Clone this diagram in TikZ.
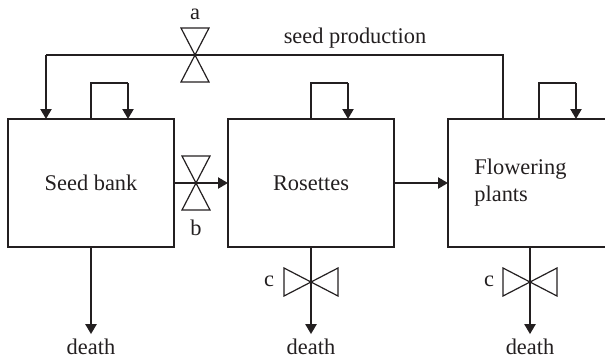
\documentclass[tikz,border=0pt]{standalone}
\usepackage{fontspec}
\setmainfont{Liberation Serif}
\usepackage{tikz}
\usetikzlibrary{
  positioning,
  arrows.meta,
  calc
}
\definecolor{inkgray}{RGB}{35,31,32}

\begin{document}
\begin{tikzpicture}[
  x=0.5pt, y=-0.5pt,
  font=\fontsize{11.2}{13.4}\selectfont,
  % --- node styles ---
  stock/.style={
    draw=inkgray, line width=0.6pt,
    minimum width=83pt, minimum height=64pt,
    inner sep=0pt, outer sep=0pt, align=left, text=inkgray
  },
  lbl/.style={text=inkgray, inner sep=1pt, align=left},
  sink/.style={text=inkgray, inner sep=3.5pt, outer sep=0pt},
  wire/.style={draw=inkgray, line width=0.6pt},
  flow/.style={-{Triangle[length=5pt,width=5.5pt]}, draw=inkgray, line width=1.1pt},
  valve/.pic={
    \draw[wire] (-14,-27) -- (14,-27) -- (-14,27) -- (14,27) -- cycle;
  },
]
\useasboundingbox (0,0) rectangle (605,360);

% Row 1: stocks
\node[stock] (seedbank) at (91,183) {Seed bank};
\node[stock] (rosettes) at (311,183) {Rosettes};
\node[stock] (flowering) at (531,183) {};
\node[lbl, right=12pt of flowering.west] (fltext) {Flowering\\plants};

% Row 2: sinks
\node[sink] (death1) at (91,347) {death};
\node[sink] (death2) at (311,347) {death};
\node[sink] (death3) at (530,347) {death};

% Valves
\coordinate (valvea) at (195,55);
\coordinate (valveb) at (196,183);
\coordinate (valvec2) at (311,282);
\coordinate (valvec3) at (530,282);
\pic at (valvea) {valve};
\pic at (valveb) {valve};
\pic[rotate=90] at (valvec2) {valve};
\pic[rotate=90] at (valvec3) {valve};
\node[lbl] (la) at (195,14) {a};
\node[lbl] (lb) at (196,228) {b};
\node[lbl] (lc2) at (269,281) {c};
\node[lbl] (lc3) at (489,281) {c};

% ─── Arrows ──────────────────────────────────────────────────────────────
\draw[flow] (seedbank) -- (rosettes);
\draw[flow] (rosettes) -- (flowering);

% seed production loop
\coordinate (sbin) at ([xshift=-22.5pt]seedbank.north);
\draw[wire] ([xshift=-14pt]flowering.north) |- (valvea) -- (valvea -| sbin) coordinate (sbcorner);
\draw[flow] (sbcorner) -- (sbin);
\node[lbl] (seedprod) at (355,38) {seed production};

% survival loops
\draw[wire] (seedbank.north) -- ++(0,-36) -- ++(37,0) coordinate (sbloop);
\draw[flow] (sbloop) -- (sbloop |- seedbank.north);
\draw[wire] (rosettes.north) -- ++(0,-36) -- ++(37,0) coordinate (roloop);
\draw[flow] (roloop) -- (roloop |- rosettes.north);
\draw[wire] ([xshift=4pt]flowering.north) -- ++(0,-36) -- ++(37,0) coordinate (flloop);
\draw[flow] (flloop) -- (flloop |- flowering.north);

% death
\draw[flow] (seedbank.south) -- ([yshift=-1pt]death1.north);
\draw[flow] (rosettes.south) -- ([yshift=-1pt]death2.north);
\draw[flow] (flowering.south -| death3) -- ([yshift=-1pt]death3.north);

\end{tikzpicture}
\end{document}
